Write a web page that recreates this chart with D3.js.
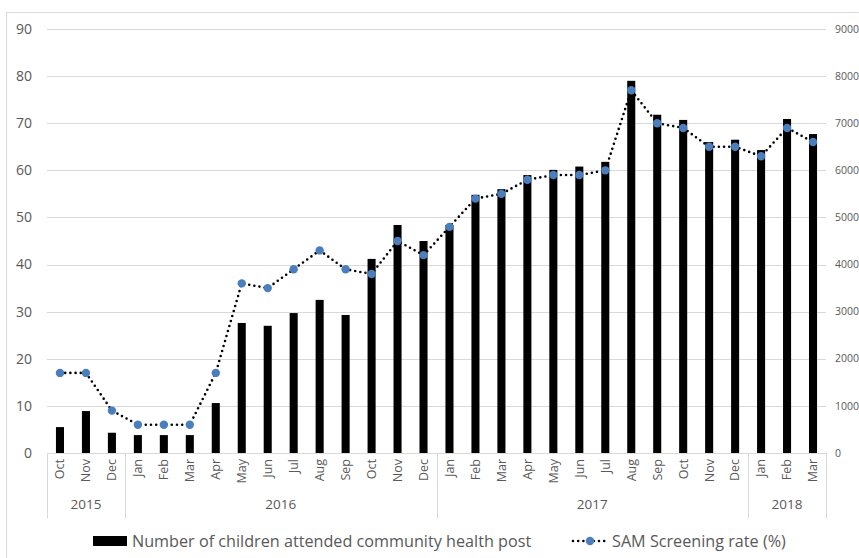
<!DOCTYPE html>
<html><head><meta charset="utf-8">
<script src="https://cdn.jsdelivr.net/npm/d3@7/dist/d3.min.js"></script>
<style>body{margin:0;background:#fff;}svg{display:block;font-family:"Open Sans","Liberation Sans",sans-serif;}</style>
</head><body><svg id="c" width="859" height="558"></svg>
<script>
const months = ["Oct","Nov","Dec","Jan","Feb","Mar","Apr","May","Jun","Jul","Aug","Sep","Oct","Nov","Dec","Jan","Feb","Mar","Apr","May","Jun","Jul","Aug","Sep","Oct","Nov","Dec","Jan","Feb","Mar"];
const years = [{label:"2015",count:3},{label:"2016",count:12},{label:"2017",count:12},{label:"2018",count:3}];
const children = [550,890,430,380,380,380,1060,2760,2700,2970,3250,2930,4120,4840,4500,4840,5480,5600,5900,6010,6080,6180,7900,7180,7070,6600,6650,6430,7090,6770];
const samRate = [17,17,9,6,6,6,17,36,35,39,43,39,38,45,42,48,54,55,58,59,59,60,77,70,69,65,65,63,69,66];
const leftTicks = [0,10,20,30,40,50,60,70,80,90];
const rightTicks = [0,1000,2000,3000,4000,5000,6000,7000,8000,9000];
const legendLabels = ["Number of children attended community health post","SAM Screening rate (%)"];

const svg = d3.select("#c");
const L = 47, R = 826, T = 29, B = 453;
const idx = d3.range(months.length);
const x = d3.scaleBand().domain(idx).range([L, R]).paddingInner(0.69).paddingOuter(0.345);
const xc = d3.scaleBand().domain(idx).range([L, R]);
const yL = d3.scaleLinear().domain([0,90]).range([B, T]);
const yR = d3.scaleLinear().domain([0,9000]).range([B, T]);
const txt = "#595959", grid = "#d9d9d9";

// frame
svg.append("rect").attr("x",6.5).attr("y",12.5).attr("width",900).attr("height",600).attr("fill","none").attr("stroke",grid);

// gridlines
svg.append("g").selectAll("line").data(leftTicks.slice(1)).join("line")
  .attr("x1",L).attr("x2",R).attr("y1",d=>Math.round(yL(d))+0.5).attr("y2",d=>Math.round(yL(d))+0.5)
  .attr("stroke",grid).attr("stroke-width",1);

// left axis labels
svg.append("g").selectAll("text").data(leftTicks).join("text")
  .attr("x",32).attr("y",d=>yL(d)).attr("dy","0.35em").attr("text-anchor","end")
  .attr("fill",txt).style("font-size","14px").text(d=>d);
// right axis labels
svg.append("g").selectAll("text").data(rightTicks).join("text")
  .attr("x",835).attr("y",d=>yR(d)).attr("dy","0.35em").attr("text-anchor","start")
  .attr("fill",txt).style("font-size","10.5px").text(d=>d);

// bars
svg.append("g").selectAll("rect").data(children).join("rect")
  .attr("x",(d,i)=>x(i)).attr("width",x.bandwidth())
  .attr("y",d=>yR(d)).attr("height",d=>B-yR(d)).attr("fill","#000");

// axis line
svg.append("line").attr("x1",L).attr("x2",R).attr("y1",B+0.5).attr("y2",B+0.5).attr("stroke",grid);

// line
const line = d3.line().x((d,i)=>xc(i)+xc.bandwidth()/2).y(d=>yL(d));
svg.append("path").datum(samRate).attr("d",line).attr("fill","none").attr("stroke","#000")
  .attr("stroke-width",2.6).attr("stroke-linecap","round").attr("stroke-dasharray","0,5.2");
svg.append("g").selectAll("circle").data(samRate).join("circle")
  .attr("cx",(d,i)=>xc(i)+xc.bandwidth()/2).attr("cy",d=>yL(d)).attr("r",4.2).attr("fill","#4a7ebf");

// month labels
svg.append("g").selectAll("text").data(months).join("text")
  .attr("transform",(d,i)=>`translate(${xc(i)+xc.bandwidth()/2},459) rotate(-90)`)
  .attr("text-anchor","end").attr("dy","0.35em").attr("fill",txt).style("font-size","12.5px").text(d=>d);

// year groups
let start = 0;
const bounds = [0];
years.forEach(y=>{ start += y.count; bounds.push(start); });
svg.append("g").selectAll("line").data(bounds).join("line")
  .attr("x1",d=>Math.round(d===months.length? R : xc(d))+0.5).attr("x2",d=>Math.round(d===months.length? R : xc(d))+0.5)
  .attr("y1",B).attr("y2",518).attr("stroke",grid);
let s2 = 0;
svg.append("g").selectAll("text").data(years).join("text")
  .attr("x",d=>{const a=s2; s2+=d.count; const x0 = xc(a); const x1 = s2===months.length? R : xc(s2); return (x0+x1)/2;})
  .attr("y",509).attr("text-anchor","middle").attr("fill",txt).style("font-size","13.5px").text(d=>d.label);

// legend
const lg = svg.append("g");
lg.append("rect").attr("x",93).attr("y",536).attr("width",34).attr("height",10).attr("fill","#000");
lg.append("text").attr("x",132).attr("y",541).attr("dy","0.35em").attr("fill",txt).style("font-size","16.2px").text(legendLabels[0]);
lg.append("line").attr("x1",573).attr("x2",605).attr("y1",541).attr("y2",541).attr("stroke","#000")
  .attr("stroke-width",2.6).attr("stroke-linecap","round").attr("stroke-dasharray","0,5.2");
lg.append("circle").attr("cx",590).attr("cy",541).attr("r",4.2).attr("fill","#4a7ebf");
lg.append("text").attr("x",612).attr("y",541).attr("dy","0.35em").attr("fill",txt).style("font-size","16.2px").text(legendLabels[1]);
</script></body></html>
